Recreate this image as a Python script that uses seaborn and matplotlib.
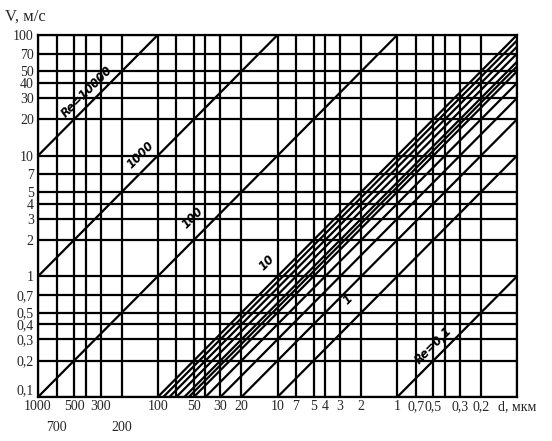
import numpy as np
import pandas as pd
import matplotlib
matplotlib.use("Agg")
import matplotlib.pyplot as plt
import seaborn as sns

# Re lines of the nomogram (V * d = Re in the chart's units)
re_main = [10000, 1000, 100, 10, 1, 0.1]
re_mid = [9, 8, 7, 6, 5.5, 5, 4, 3, 2]
d_range = [1000, 0.1]

# grid / tick values
x_grid = [1000, 700, 500, 400, 300, 200, 100, 70, 50, 40, 30, 20, 10,
          7, 5, 4, 3, 2, 1, 0.7, 0.5, 0.4, 0.3, 0.2, 0.1]
y_grid = [100, 70, 50, 40, 30, 20, 10, 7, 5, 4, 3, 2, 1,
          0.7, 0.5, 0.4, 0.3, 0.2, 0.1]
x_ticks = [1000, 500, 300, 100, 50, 30, 20, 10, 7, 5, 4, 3, 2, 1,
           0.7, 0.5, 0.3, 0.2, 0.1]
x_ticklabels = ['1000', '500', '300', '100', '50', '30', '20', '10', '7',
                '5', '4', '3', '2', '1', '0,7', '0,5', '0,3', '0,2',
                'd, мкм']
x_ticks_low = [700, 200]
x_ticklabels_low = ['700', '200']
y_ticks = y_grid
y_ticklabels = ['100', '70', '50', '40', '30', '20', '10', '7', '5', '4',
                '3', '2', '1', '0,7', '0,5', '0,4', '0,3', '0,2', '0,1']

# line captions: text, d, V
captions = [('Re=10000', 391, 33.7), ('1000', 139, 10.1), ('100', 51, 3.05),
            ('10', 12.4, 1.29), ('1', 2.6, 0.64), ('Re=0,1', 0.5, 0.265)]

rows = []
for re in re_main + re_mid:
    for d in d_range:
        rows.append({'Re': re, 'd': d, 'V': re / d})
df = pd.DataFrame(rows)

sns.set_style("white")
plt.rcParams['font.family'] = ['Liberation Serif', 'DejaVu Serif']

fig = plt.figure(figsize=(5.52, 4.41), dpi=100)
ax = fig.add_axes([38 / 552, 44 / 441, 479 / 552, 362 / 441])
ax.set_xscale('log')
ax.set_yscale('log')

for x in x_grid:
    ax.axvline(x, color='black', lw=1.6, zorder=1)
for y in y_grid:
    ax.axhline(y, color='black', lw=1.6, zorder=1)

sns.lineplot(data=df, x='d', y='V', units='Re', estimator=None,
             color='black', lw=1.6, ax=ax, legend=False, zorder=2)

ax.set_xlim(1000, 0.1)
ax.set_ylim(0.1, 100)

ax.set_xticks(x_ticks)
ax.set_xticklabels(x_ticklabels)
ax.set_xticks(x_ticks_low, minor=True)
ax.set_xticklabels(x_ticklabels_low, minor=True)
ax.set_yticks(y_ticks)
ax.set_yticklabels(y_ticklabels)
ax.set_yticks([], minor=True)
ax.tick_params(axis='y', which='major', length=0, labelsize=10, pad=3)
ax.tick_params(axis='x', which='major', length=0, labelsize=10, pad=2)
ax.tick_params(axis='x', which='minor', length=17, width=1.6,
               color='black', labelsize=10, pad=0.5, direction='out')

# lowest V label sits a little above the corner, as in the original
ax.get_yticklabels()[-1].set_va('bottom')

ax.set_xlabel('')
ax.set_ylabel('V, м/с', rotation=0, fontsize=12, ha='left', va='center')
ax.yaxis.set_label_coords(-0.068, 1.05)

for s in ax.spines.values():
    s.set_color('black')
    s.set_linewidth(1.6)

for txt, d, v in captions:
    ax.text(d, v, txt, rotation=45, ha='center', va='center',
            fontsize=8.5, style='italic', family='DejaVu Sans',
            fontweight='bold', color='black', zorder=3)

fig.savefig('out.png', dpi=100)
